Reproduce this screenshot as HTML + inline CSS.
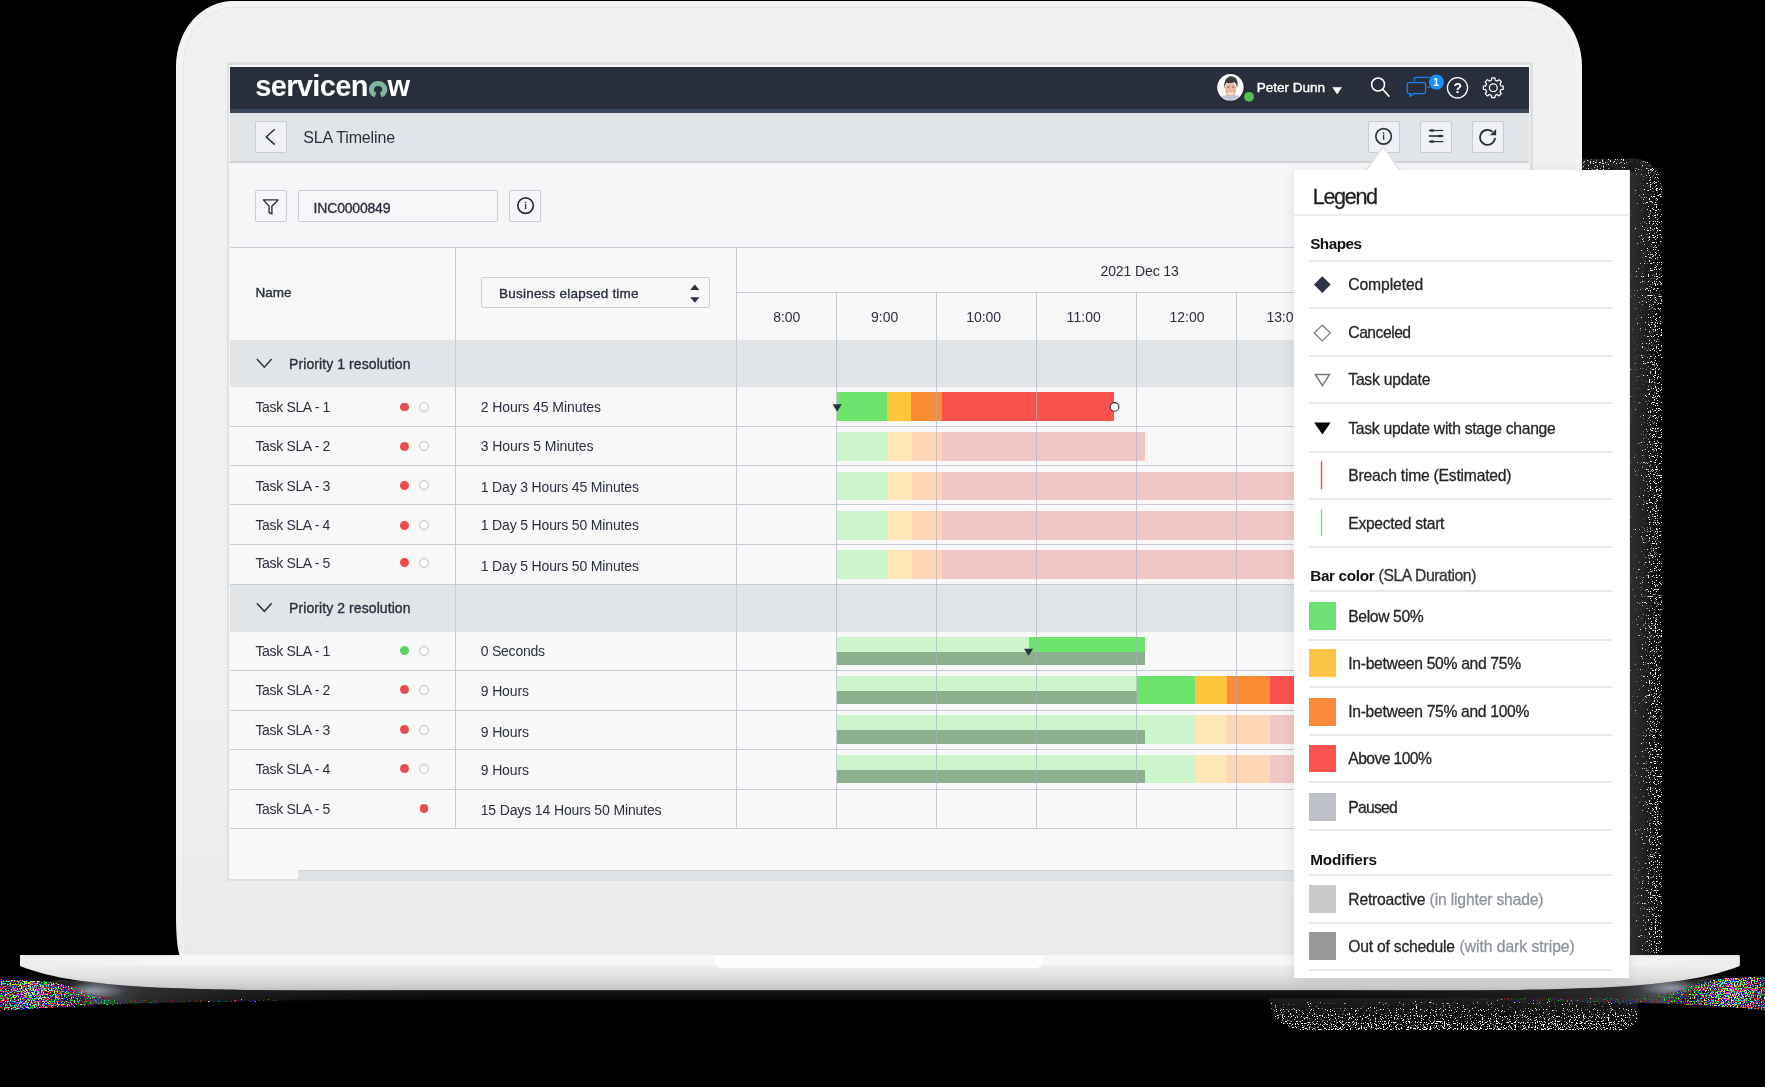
<!DOCTYPE html>
<html><head><meta charset="utf-8"><title>SLA Timeline</title>
<style>
html,body{margin:0;padding:0;background:#000;}
body{width:1765px;height:1087px;position:relative;overflow:hidden;font-family:"Liberation Sans",sans-serif;}
.a{position:absolute;box-sizing:border-box;}
.t{position:absolute;white-space:nowrap;line-height:1;height:1em;display:block;}
.m{-webkit-text-stroke:0.35px currentColor;}
.m2{-webkit-text-stroke:0.28px currentColor;}
svg{position:absolute;overflow:visible;left:0;top:0;}
.btn{position:absolute;box-sizing:border-box;background:#f0f1f6;border:1px solid #c9cdd3;border-radius:2px;}
.btn2{position:absolute;box-sizing:border-box;background:#f7f7f9;border:1px solid #c9cdd3;border-radius:2px;}
#w{position:absolute;left:0;top:0;width:1765px;height:1087px;will-change:transform;}
</style></head><body><div id="w">
<svg id="noise" width="1765" height="1087" viewBox="0 0 1765 1087"><defs><filter id="fw" x="0" y="0" width="1" height="1" color-interpolation-filters="sRGB"><feTurbulence type="fractalNoise" baseFrequency="0.85" numOctaves="1" seed="11" result="n"/><feColorMatrix in="n" type="matrix" values="1 0 0 0 0  1 0 0 0 0  1 0 0 0 0  0 0 0 0 1" result="g"/><feComposite in="g" in2="SourceGraphic" operator="arithmetic" k1="0" k2="12" k3="12" k4="-12" result="c"/><feColorMatrix in="c" type="matrix" values="0 0 0 0 1  0 0 0 0 1  0 0 0 0 1  1 0 0 0 0"/></filter><filter id="fc" x="0" y="0" width="1" height="1" color-interpolation-filters="sRGB"><feTurbulence type="fractalNoise" baseFrequency="0.7" numOctaves="1" seed="5" result="n"/><feColorMatrix in="n" type="matrix" values="1 0 0 0 0  0 1 0 0 0  0 0 1 0 0  0 0 0 0 1" result="g"/><feComposite in="g" in2="SourceGraphic" operator="arithmetic" k1="0" k2="9" k3="9" k4="-9" result="c"/><feColorMatrix in="c" type="matrix" values="1 0 0 0 0  0 1 0 0 0  0 0 1 0 0  1 1 1 0 0"/></filter><linearGradient id="gr" gradientUnits="userSpaceOnUse" x1="1631" y1="0" x2="1662.5" y2="0"><stop offset="0" stop-color="#484848"/><stop offset="0.4" stop-color="#565656"/><stop offset="0.7" stop-color="#6c6c6c"/><stop offset="1" stop-color="#686868"/></linearGradient><linearGradient id="grb" gradientUnits="userSpaceOnUse" x1="1631" y1="0" x2="1662.5" y2="0"><stop offset="0" stop-color="#303030"/><stop offset="0.45" stop-color="#1f1f1f"/><stop offset="0.8" stop-color="#0a0a0a"/><stop offset="1" stop-color="#000"/></linearGradient><linearGradient id="gt" x1="0" y1="0" x2="0" y2="1"><stop offset="0" stop-color="#6e6e6e"/><stop offset="1" stop-color="#585858"/></linearGradient><linearGradient id="gb" x1="0" y1="0" x2="0" y2="1"><stop offset="0" stop-color="#505050"/><stop offset="0.5" stop-color="#666"/><stop offset="1" stop-color="#7b7b7b"/></linearGradient><linearGradient id="gbb" x1="0" y1="0" x2="0" y2="1"><stop offset="0" stop-color="#1e1e1e"/><stop offset="0.6" stop-color="#0c0c0c"/><stop offset="1" stop-color="#000"/></linearGradient><radialGradient id="gl" gradientUnits="userSpaceOnUse" cx="32" cy="992" r="95"><stop offset="0" stop-color="#8e8e8e"/><stop offset="0.4" stop-color="#7c7c7c"/><stop offset="0.7" stop-color="#686868"/><stop offset="1" stop-color="#646464"/></radialGradient><radialGradient id="gl2" gradientUnits="userSpaceOnUse" cx="1733" cy="990" r="95"><stop offset="0" stop-color="#8e8e8e"/><stop offset="0.4" stop-color="#7c7c7c"/><stop offset="0.7" stop-color="#686868"/><stop offset="1" stop-color="#646464"/></radialGradient><linearGradient id="sh" x1="0" y1="0" x2="0" y2="1"><stop offset="0" stop-color="#2e2e2e"/><stop offset="1" stop-color="#000"/></linearGradient><radialGradient id="glow"><stop offset="0" stop-color="#9aa2ad" stop-opacity="0.9"/><stop offset="1" stop-color="#9aa2ad" stop-opacity="0"/></radialGradient></defs><path d="M60 980 Q250 992 500 991 H1300 Q1560 991 1710 978 L1765 990 V1003 Q1560 1000 1400 1000 H420 Q250 1001 0 1004 V985 Z" fill="url(#sh)"/><clipPath id="colc"><path d="M1582 158.5 H1636 Q1662.5 161 1662.5 197 V955 H1628 V172 H1582 Z"/></clipPath><g clip-path="url(#colc)"><path d="M1628 150 H1662.5 V955 H1628 Z" fill="url(#grb)"/><path d="M1582 158.5 H1640 V172 H1582 Z" fill="#1c1c1c"/><g filter="url(#fw)"><path d="M1628 150 H1662.5 V955 H1628 Z" fill="url(#gr)"/></g><g filter="url(#fw)"><path d="M1582 158.5 H1628 V172 H1582 Z" fill="url(#gt)"/></g></g><path d="M1269 998 H1638 V1016 Q1636 1030.5 1615 1030.5 H1310 Q1274 1030 1269 1000 Z" fill="url(#gbb)"/><g filter="url(#fw)"><path d="M1269 1003 Q1400 999 1638 1000 V1016 Q1636 1030.5 1615 1030.5 H1310 Q1274 1030 1269 1003 Z" fill="url(#gb)"/></g><linearGradient id="wl" gradientUnits="userSpaceOnUse" x1="70" y1="0" x2="430" y2="0"><stop offset="0" stop-color="#5a5e66" stop-opacity="0"/><stop offset="0.07" stop-color="#5a5e66" stop-opacity="0.85"/><stop offset="0.2" stop-color="#3a3a3c" stop-opacity="0.7"/><stop offset="0.5" stop-color="#262626" stop-opacity="0.5"/><stop offset="1" stop-color="#1c1c1c" stop-opacity="0"/></linearGradient><linearGradient id="wr" gradientUnits="userSpaceOnUse" x1="1690" y1="0" x2="1330" y2="0"><stop offset="0" stop-color="#5a5e66" stop-opacity="0"/><stop offset="0.07" stop-color="#5a5e66" stop-opacity="0.85"/><stop offset="0.2" stop-color="#3a3a3c" stop-opacity="0.7"/><stop offset="0.5" stop-color="#262626" stop-opacity="0.5"/><stop offset="1" stop-color="#1c1c1c" stop-opacity="0"/></linearGradient><path d="M70 978 L430 985 V998 L280 1000 L70 1005 Z" fill="url(#wl)"/><path d="M1690 976 L1330 985 V998 L1480 1000 L1690 1004 Z" fill="url(#wr)"/><ellipse cx="92" cy="991" rx="34" ry="8" fill="url(#glow)"/><ellipse cx="1673" cy="988" rx="34" ry="8" fill="url(#glow)"/><g filter="url(#fc)"><path d="M0 979 L45 981 Q70 984 86 993 L125 1000 L285 998.5 L285 1001.5 L125 1004.5 Q70 1007 0 1011 Z" fill="url(#gl)"/></g><g filter="url(#fc)"><path d="M1765 976 L1725 978 Q1698 981 1682 990 L1642 998 L1480 997.5 L1480 1000.5 L1642 1003 Q1700 1005 1765 1010 Z" fill="url(#gl2)"/></g></svg>
<div class="a" id="lid" style="left:176.10px;top:1.00px;width:1405.70px;height:956.00px;border-radius:57px 57px 5px 5px / 65px 65px 40px 40px;background:linear-gradient(#f3f3f3 0,#f3f3f3 70%,#f0f0f0 92%,#ededed 100%);"></div>
<div class="a" id="lidin" style="left:183.30px;top:7.30px;width:1391.60px;height:950.00px;border-radius:50px 50px 4px 4px / 58px 58px 40px 40px;border:1.6px solid #e7e7e7;border-bottom:none;background:linear-gradient(#f0f0f0 0,#f0f0f0 70%,#ededed 88%,#eaeaea 100%);"></div>
<svg id="base" width="1765" height="1087" viewBox="0 0 1765 1087"><defs><linearGradient id="bg1" x1="0" y1="0" x2="0" y2="1"><stop offset="0" stop-color="#f1f1f1"/><stop offset="0.3" stop-color="#eeeeee"/><stop offset="0.6" stop-color="#e2e2e2"/><stop offset="0.9" stop-color="#cdcdcd"/><stop offset="1" stop-color="#c0c0c0"/></linearGradient><linearGradient id="bg2" x1="0" y1="0" x2="1" y2="0"><stop offset="0" stop-color="#ededed"/><stop offset="0.1" stop-color="#f7f7f7"/><stop offset="0.9" stop-color="#f7f7f7"/><stop offset="1" stop-color="#ececec"/></linearGradient></defs><path d="M20 955.3 V966 C35 972 55 977 75 980 C95 982.6 110 984.3 125 985.6 C150 987.5 175 988.4 200 988.9 C220 989.4 235 989.7 250 989.9 L300 990.3 L1459.6 990.3 L1509.6 989.9 C1524.6 989.7 1539.6 989.4 1559.6 988.9 C1584.6 988.4 1609.6 987.5 1634.6 985.6 C1649.6 984.3 1664.6 982.6 1684.6 980 C1704.6 977 1724.6 972 1739.6 966 V955.3 Z" fill="url(#bg1)"/><rect x="20" y="955.3" width="1719.6" height="9.9" fill="url(#bg2)"/><path d="M715 955.3 H1043 V962 Q1043 968.3 1030 968.3 H728 Q715 968.3 715 962 Z" fill="#fdfdfd"/></svg>
<div class="a" id="bezel" style="left:226.50px;top:62.20px;width:1306.50px;height:818.40px;background:#e0e0e0;"></div>
<div class="a" id="screen" style="left:229.20px;top:65.20px;width:1300.80px;height:813.60px;background:linear-gradient(#f6f6f8 0,#f6f6f8 182px,#f8f8f8 182px,#f8f8f8 100%);"></div>
<div class="a" id="nav" style="left:230.00px;top:67.00px;width:1298.70px;height:42.50px;background:#292e3d;"></div>
<div class="a" style="left:230.00px;top:109.30px;width:1298.70px;height:3.40px;background:#3a485c;"></div>
<div class="a" id="sub" style="left:230.00px;top:112.70px;width:1298.70px;height:48.20px;background:#e2e5e8;"></div>
<div class="a" style="left:230.00px;top:160.80px;width:1298.70px;height:1.80px;background:#cdd2d9;"></div>
<span id="t1" class="t" style="left:255.30px;top:72.35px;font-size:29.00px;font-weight:700;color:#fff;letter-spacing:-0.664px">servicen</span>
<span id="t2" class="t" style="left:387.60px;top:72.35px;font-size:29.00px;font-weight:700;color:#fff;letter-spacing:1.130px">w</span>
<svg width="1765" height="1087"><path d="M375.45 95.0 A6.7 6.0 0 1 1 380.75 95.0" fill="none" stroke="#81b5a0" stroke-width="4.9"/></svg>
<span id="t3" class="t m" style="left:1256.70px;top:81.29px;font-size:13.60px;font-weight:400;color:#fff;letter-spacing:-0.048px">Peter Dunn</span>
<div class="btn" style="left:255.40px;top:121.20px;width:31.40px;height:31.50px;"></div>
<span id="t4" class="t" style="left:303.20px;top:129.76px;font-size:16.00px;font-weight:400;color:#2b3040;letter-spacing:-0.133px">SLA Timeline</span>
<div class="btn" style="left:1368.30px;top:121.20px;width:31.40px;height:31.50px;"></div>
<div class="btn" style="left:1420.30px;top:121.20px;width:31.40px;height:31.50px;"></div>
<div class="btn" style="left:1472.20px;top:121.20px;width:31.40px;height:31.50px;"></div>
<div class="btn2" style="left:255.20px;top:190.40px;width:31.40px;height:31.30px;"></div>
<div class="btn2" style="left:298.20px;top:190.40px;width:199.40px;height:31.30px;"></div>
<div class="btn2" style="left:509.30px;top:190.40px;width:31.30px;height:31.30px;"></div>
<span id="t5" class="t m" style="left:313.60px;top:200.75px;font-size:14.00px;font-weight:400;color:#2b3040;letter-spacing:-0.192px">INC0000849</span>
<svg width="1765" height="1087"><defs><clipPath id="avc"><circle cx="1230.4" cy="87.3" r="12.6"/></clipPath></defs><circle cx="1230.4" cy="87.3" r="13.2" fill="#fbfbfb"/><g clip-path="url(#avc)"><path d="M1219 101 Q1220 95.5 1226 95 L1235 95 Q1241 95.5 1242 101 Z" fill="#b9c6dc"/><path d="M1227.6 94 L1230.6 98.6 L1233.8 94 Z" fill="#e9c0a6"/><ellipse cx="1230.6" cy="89.3" rx="5.6" ry="7.3" fill="#e7b89d"/><path d="M1224.4 88.5 Q1223 78.5 1230 76.2 Q1237.5 75.6 1237.6 84 L1237 88.5 Q1236.6 83.6 1234.4 82.2 Q1230 83.5 1226.4 82.8 Q1225 84.5 1224.4 88.5 Z" fill="#3d3d3f"/><path d="M1228 93.0 Q1230.6 94.8 1233.2 93.0" stroke="#fff" stroke-width="1.1" fill="none"/><rect x="1227.3" y="86.6" width="1.9" height="0.9" fill="#5b4034"/><rect x="1232.3" y="86.6" width="1.9" height="0.9" fill="#5b4034"/></g><circle cx="1249" cy="96.8" r="4.9" fill="#55bf52"/><path d="M1332.8 87.4 L1341.5 87.4 L1337.15 93.9 Z" fill="#fff" stroke="#fff" stroke-width="0.6" stroke-linejoin="round"/><circle cx="1378.1" cy="84.5" r="6.45" fill="none" stroke="#fff" stroke-width="1.6"/><path d="M1382.9 89.5 L1388.9 96.1" stroke="#fff" stroke-width="1.6" stroke-linecap="round"/><g fill="none" stroke="#1c84ee" stroke-width="1.25" stroke-linejoin="round"><path d="M1414.4 81.6 V79 Q1414.4 77.3 1416.1 77.3 H1430.2" /><path d="M1427.2 87.2 H1430"/><path d="M1409 82.6 H1423.8 Q1425.6 82.6 1425.6 84.4 V91.8 Q1425.6 93.6 1423.8 93.6 H1414.2 L1410 96.6 L1410.6 93.6 H1409 Q1407.3 93.6 1407.3 91.8 V84.4 Q1407.3 82.6 1409 82.6 Z"/></g><circle cx="1436.4" cy="82.1" r="7.5" fill="#1890ff"/><circle cx="1457.5" cy="87.8" r="10.1" fill="none" stroke="#fff" stroke-width="1.25"/><path d="M1491.36 80.25 L1491.74 77.92 L1494.86 77.92 L1495.24 80.25 L1497.27 81.09 L1499.18 79.71 L1501.39 81.92 L1500.01 83.83 L1500.85 85.86 L1503.18 86.24 L1503.18 89.36 L1500.85 89.74 L1500.01 91.77 L1501.39 93.68 L1499.18 95.89 L1497.27 94.51 L1495.24 95.35 L1494.86 97.68 L1491.74 97.68 L1491.36 95.35 L1489.33 94.51 L1487.42 95.89 L1485.21 93.68 L1486.59 91.77 L1485.75 89.74 L1483.42 89.36 L1483.42 86.24 L1485.75 85.86 L1486.59 83.83 L1485.21 81.92 L1487.42 79.71 L1489.33 81.09 Z" fill="none" stroke="#fff" stroke-width="1.25" stroke-linejoin="round"/><circle cx="1493.3" cy="87.8" r="3.9" fill="none" stroke="#fff" stroke-width="1.25"/><path d="M274.8 129.2 L266.2 136.9 L274.8 144.6" fill="none" stroke="#2b3040" stroke-width="1.5"/></svg>
<span class="t" style="left:1433.3px;top:77.01px;font-size:10.5px;font-weight:700;color:#fff">1</span>
<span class="t" style="left:1453.4px;top:81.15px;font-size:14px;font-weight:700;color:#fff">?</span>
<svg width="1765" height="1087"><circle cx="1383.60" cy="136.30" r="7.75" fill="none" stroke="#2b3040" stroke-width="1.7"/><rect x="1382.95" y="134.70" width="1.3" height="5.0" fill="#2b3040"/><rect x="1382.90" y="132.40" width="1.4" height="1.4" fill="#2b3040"/><circle cx="525.55" cy="205.60" r="7.75" fill="none" stroke="#2b3040" stroke-width="1.7"/><rect x="524.90" y="204.00" width="1.3" height="5.0" fill="#2b3040"/><rect x="524.85" y="201.70" width="1.4" height="1.4" fill="#2b3040"/><path d="M1428.8 130.5 H1443.3" stroke="#2b3040" stroke-width="1.2"/><ellipse cx="1432.0" cy="130.5" rx="2.4" ry="1.35" fill="#2b3040"/><path d="M1428.8 136.0 H1443.3" stroke="#2b3040" stroke-width="1.6"/><ellipse cx="1440.3" cy="136.0" rx="2.4" ry="1.35" fill="#2b3040"/><path d="M1428.8 141.6 H1443.3" stroke="#2b3040" stroke-width="1.2"/><ellipse cx="1432.0" cy="141.6" rx="2.4" ry="1.35" fill="#2b3040"/><path d="M1492.52 131.83 A7.50 7.50 0 1 0 1494.98 137.92" fill="none" stroke="#2b3040" stroke-width="1.8"/><path d="M1496.1 128.9 V135.2 H1490.0 Z" fill="#2b3040"/><path d="M263.4 199.9 H278 L271.9 206.2 V213.9 L269.1 212.5 V206.2 Z" fill="none" stroke="#2b3040" stroke-width="1.4" stroke-linejoin="round"/></svg>
<div class="a" style="left:229.50px;top:340.30px;width:1300.00px;height:46.40px;background:#e2e5e8;"></div>
<div class="a" style="left:229.50px;top:584.40px;width:1300.00px;height:47.30px;background:#e2e5e8;"></div>
<div class="a" style="left:229.50px;top:247.00px;width:1300.00px;height:1.40px;background:#c6cbd6;"></div>
<div class="a" style="left:736.60px;top:292.00px;width:792.90px;height:1.40px;background:#c6cbd6;"></div>
<div class="a" style="left:229.50px;top:426.00px;width:1300.00px;height:1.40px;background:#c6cbd6;"></div>
<div class="a" style="left:229.50px;top:465.00px;width:1300.00px;height:1.40px;background:#c6cbd6;"></div>
<div class="a" style="left:229.50px;top:504.00px;width:1300.00px;height:1.40px;background:#c6cbd6;"></div>
<div class="a" style="left:229.50px;top:544.00px;width:1300.00px;height:1.40px;background:#c6cbd6;"></div>
<div class="a" style="left:229.50px;top:584.00px;width:1300.00px;height:1.40px;background:#c6cbd6;"></div>
<div class="a" style="left:229.50px;top:670.00px;width:1300.00px;height:1.40px;background:#c6cbd6;"></div>
<div class="a" style="left:229.50px;top:710.00px;width:1300.00px;height:1.40px;background:#c6cbd6;"></div>
<div class="a" style="left:229.50px;top:749.00px;width:1300.00px;height:1.40px;background:#c6cbd6;"></div>
<div class="a" style="left:229.50px;top:789.00px;width:1300.00px;height:1.40px;background:#c6cbd6;"></div>
<div class="a" style="left:229.50px;top:828.00px;width:1300.00px;height:1.40px;background:#c6cbd6;"></div>
<div class="a" style="left:455.00px;top:247.40px;width:1.40px;height:581.40px;background:#c6cbd6;"></div>
<div class="a" style="left:736.00px;top:247.40px;width:1.40px;height:581.40px;background:#c6cbd6;"></div>
<span id="t6" class="t m" style="left:255.40px;top:286.07px;font-size:13.50px;font-weight:400;color:#2b3040;letter-spacing:0.021px">Name</span>
<div class="btn2" style="left:480.50px;top:277.40px;width:229.70px;height:31.10px;background:#f8f8f9;"></div>
<span id="t7" class="t m" style="left:499.00px;top:286.87px;font-size:13.50px;font-weight:400;color:#2b3040;letter-spacing:0.224px">Business elapsed time</span>
<svg width="1765" height="1087"><path d="M690.2 290 L694.8 284.6 L699.4 290 Z M690.2 297.2 L699.4 297.2 L694.8 302.8 Z" fill="#2b3040"/></svg>
<span id="t8" class="t" style="left:1100.50px;top:263.85px;font-size:14.00px;font-weight:400;color:#2b3040;letter-spacing:-0.109px">2021 Dec 13</span>
<span id="t9" class="t" style="left:773.20px;top:309.75px;font-size:14.00px;font-weight:400;color:#2b3040;letter-spacing:-0.016px">8:00</span>
<span id="t10" class="t" style="left:871.10px;top:309.75px;font-size:14.00px;font-weight:400;color:#2b3040;letter-spacing:-0.014px">9:00</span>
<span id="t11" class="t" style="left:966.30px;top:309.75px;font-size:14.00px;font-weight:400;color:#2b3040;letter-spacing:-0.049px">10:00</span>
<span id="t12" class="t" style="left:1066.60px;top:309.75px;font-size:14.00px;font-weight:400;color:#2b3040;letter-spacing:0.040px">11:00</span>
<span id="t13" class="t" style="left:1169.60px;top:309.75px;font-size:14.00px;font-weight:400;color:#2b3040;letter-spacing:-0.048px">12:00</span>
<span id="t14" class="t" style="left:1266.40px;top:309.75px;font-size:14.00px;font-weight:400;color:#2b3040;letter-spacing:-0.048px">13:00</span>
<svg width="1765" height="1087"><path d="M256.9 359.1 L264.3 367.2 L271.7 359.1" fill="none" stroke="#2b3040" stroke-width="1.5"/></svg>
<span id="t15" class="t m" style="left:289.10px;top:357.05px;font-size:14.00px;font-weight:400;color:#2b3040;letter-spacing:0.079px">Priority 1 resolution</span>
<svg width="1765" height="1087"><path d="M256.9 603.2 L264.3 611.3 L271.7 603.2" fill="none" stroke="#2b3040" stroke-width="1.5"/></svg>
<span id="t16" class="t m" style="left:289.10px;top:601.15px;font-size:14.00px;font-weight:400;color:#2b3040;letter-spacing:0.079px">Priority 2 resolution</span>
<span id="t17" class="t" style="left:255.40px;top:400.25px;font-size:14.00px;font-weight:400;color:#2b3040;letter-spacing:-0.333px">Task SLA - 1</span>
<span id="t18" class="t" style="left:480.70px;top:399.75px;font-size:14.00px;font-weight:400;color:#2b3040;letter-spacing:-0.066px">2 Hours 45 Minutes</span>
<div class="a" style="left:399.75px;top:402.55px;width:8.90px;height:8.90px;border-radius:50%;background:#ea4c4b;box-shadow:0 0 0 0.8px #fbfdfd;"></div>
<div class="a" style="left:419.05px;top:402.00px;width:10.00px;height:10.00px;border-radius:50%;border:1.2px solid #bbc0cc;background:#f9f9fa;"></div>
<span id="t19" class="t" style="left:255.40px;top:439.35px;font-size:14.00px;font-weight:400;color:#2b3040;letter-spacing:-0.333px">Task SLA - 2</span>
<span id="t20" class="t" style="left:480.70px;top:439.35px;font-size:14.00px;font-weight:400;color:#2b3040;letter-spacing:-0.048px">3 Hours 5 Minutes</span>
<div class="a" style="left:399.75px;top:441.65px;width:8.90px;height:8.90px;border-radius:50%;background:#ea4c4b;box-shadow:0 0 0 0.8px #fbfdfd;"></div>
<div class="a" style="left:419.05px;top:441.10px;width:10.00px;height:10.00px;border-radius:50%;border:1.2px solid #bbc0cc;background:#f9f9fa;"></div>
<span id="t21" class="t" style="left:255.40px;top:478.55px;font-size:14.00px;font-weight:400;color:#2b3040;letter-spacing:-0.333px">Task SLA - 3</span>
<span id="t22" class="t" style="left:480.70px;top:480.25px;font-size:14.00px;font-weight:400;color:#2b3040;letter-spacing:-0.157px">1 Day 3 Hours 45 Minutes</span>
<div class="a" style="left:399.75px;top:480.85px;width:8.90px;height:8.90px;border-radius:50%;background:#ea4c4b;box-shadow:0 0 0 0.8px #fbfdfd;"></div>
<div class="a" style="left:419.05px;top:480.30px;width:10.00px;height:10.00px;border-radius:50%;border:1.2px solid #bbc0cc;background:#f9f9fa;"></div>
<span id="t23" class="t" style="left:255.40px;top:518.35px;font-size:14.00px;font-weight:400;color:#2b3040;letter-spacing:-0.333px">Task SLA - 4</span>
<span id="t24" class="t" style="left:480.70px;top:518.35px;font-size:14.00px;font-weight:400;color:#2b3040;letter-spacing:-0.157px">1 Day 5 Hours 50 Minutes</span>
<div class="a" style="left:399.75px;top:520.65px;width:8.90px;height:8.90px;border-radius:50%;background:#ea4c4b;box-shadow:0 0 0 0.8px #fbfdfd;"></div>
<div class="a" style="left:419.05px;top:520.10px;width:10.00px;height:10.00px;border-radius:50%;border:1.2px solid #bbc0cc;background:#f9f9fa;"></div>
<span id="t25" class="t" style="left:255.40px;top:555.75px;font-size:14.00px;font-weight:400;color:#2b3040;letter-spacing:-0.333px">Task SLA - 5</span>
<span id="t26" class="t" style="left:480.70px;top:558.55px;font-size:14.00px;font-weight:400;color:#2b3040;letter-spacing:-0.157px">1 Day 5 Hours 50 Minutes</span>
<div class="a" style="left:399.75px;top:558.05px;width:8.90px;height:8.90px;border-radius:50%;background:#ea4c4b;box-shadow:0 0 0 0.8px #fbfdfd;"></div>
<div class="a" style="left:419.05px;top:557.50px;width:10.00px;height:10.00px;border-radius:50%;border:1.2px solid #bbc0cc;background:#f9f9fa;"></div>
<span id="t27" class="t" style="left:255.40px;top:644.35px;font-size:14.00px;font-weight:400;color:#2b3040;letter-spacing:-0.333px">Task SLA - 1</span>
<span id="t28" class="t" style="left:480.70px;top:644.35px;font-size:14.00px;font-weight:400;color:#2b3040;letter-spacing:-0.218px">0 Seconds</span>
<div class="a" style="left:399.75px;top:646.25px;width:8.90px;height:8.90px;border-radius:50%;background:#5cd65f;box-shadow:0 0 0 0.8px #fbfdfd;"></div>
<div class="a" style="left:419.05px;top:645.70px;width:10.00px;height:10.00px;border-radius:50%;border:1.2px solid #bbc0cc;background:#f9f9fa;"></div>
<span id="t29" class="t" style="left:255.40px;top:683.45px;font-size:14.00px;font-weight:400;color:#2b3040;letter-spacing:-0.333px">Task SLA - 2</span>
<span id="t30" class="t" style="left:480.70px;top:684.45px;font-size:14.00px;font-weight:400;color:#2b3040;letter-spacing:-0.119px">9 Hours</span>
<div class="a" style="left:399.75px;top:685.35px;width:8.90px;height:8.90px;border-radius:50%;background:#ea4c4b;box-shadow:0 0 0 0.8px #fbfdfd;"></div>
<div class="a" style="left:419.05px;top:684.80px;width:10.00px;height:10.00px;border-radius:50%;border:1.2px solid #bbc0cc;background:#f9f9fa;"></div>
<span id="t31" class="t" style="left:255.40px;top:723.15px;font-size:14.00px;font-weight:400;color:#2b3040;letter-spacing:-0.333px">Task SLA - 3</span>
<span id="t32" class="t" style="left:480.70px;top:724.85px;font-size:14.00px;font-weight:400;color:#2b3040;letter-spacing:-0.119px">9 Hours</span>
<div class="a" style="left:399.75px;top:725.15px;width:8.90px;height:8.90px;border-radius:50%;background:#ea4c4b;box-shadow:0 0 0 0.8px #fbfdfd;"></div>
<div class="a" style="left:419.05px;top:724.60px;width:10.00px;height:10.00px;border-radius:50%;border:1.2px solid #bbc0cc;background:#f9f9fa;"></div>
<span id="t33" class="t" style="left:255.40px;top:762.25px;font-size:14.00px;font-weight:400;color:#2b3040;letter-spacing:-0.333px">Task SLA - 4</span>
<span id="t34" class="t" style="left:480.70px;top:763.25px;font-size:14.00px;font-weight:400;color:#2b3040;letter-spacing:-0.118px">9 Hours</span>
<div class="a" style="left:399.75px;top:764.25px;width:8.90px;height:8.90px;border-radius:50%;background:#ea4c4b;box-shadow:0 0 0 0.8px #fbfdfd;"></div>
<div class="a" style="left:419.05px;top:763.70px;width:10.00px;height:10.00px;border-radius:50%;border:1.2px solid #bbc0cc;background:#f9f9fa;"></div>
<span id="t35" class="t" style="left:255.40px;top:802.35px;font-size:14.00px;font-weight:400;color:#2b3040;letter-spacing:-0.334px">Task SLA - 5</span>
<span id="t36" class="t" style="left:480.70px;top:803.15px;font-size:14.00px;font-weight:400;color:#2b3040;letter-spacing:-0.135px">15 Days 14 Hours 50 Minutes</span>
<div class="a" style="left:419.55px;top:804.35px;width:8.90px;height:8.90px;border-radius:50%;background:#ea4c4b;box-shadow:0 0 0 0.8px #fbfdfd;"></div>
<div class="a" style="left:837.10px;top:392.30px;width:50.00px;height:28.50px;background:#6be56c;"></div>
<div class="a" style="left:887.10px;top:392.30px;width:23.70px;height:28.50px;background:#fdc53b;"></div>
<div class="a" style="left:910.80px;top:392.30px;width:30.80px;height:28.50px;background:#fb8b34;"></div>
<div class="a" style="left:941.60px;top:392.30px;width:172.90px;height:28.50px;background:#fb514c;"></div>
<div class="a" style="left:837.10px;top:432.00px;width:50.00px;height:28.90px;background:#ccf5cc;"></div>
<div class="a" style="left:887.10px;top:432.00px;width:24.80px;height:28.90px;background:#fee7b7;"></div>
<div class="a" style="left:911.90px;top:432.00px;width:29.70px;height:28.90px;background:#fed5b5;"></div>
<div class="a" style="left:941.60px;top:432.00px;width:203.10px;height:28.90px;background:#f1c7c5;"></div>
<div class="a" style="left:837.10px;top:471.50px;width:50.00px;height:28.60px;background:#ccf5cc;"></div>
<div class="a" style="left:887.10px;top:471.50px;width:24.80px;height:28.60px;background:#fee7b7;"></div>
<div class="a" style="left:911.90px;top:471.50px;width:29.70px;height:28.60px;background:#fed5b5;"></div>
<div class="a" style="left:941.60px;top:471.50px;width:598.40px;height:28.60px;background:#f1c7c5;"></div>
<div class="a" style="left:837.10px;top:510.90px;width:50.00px;height:28.90px;background:#ccf5cc;"></div>
<div class="a" style="left:887.10px;top:510.90px;width:24.80px;height:28.90px;background:#fee7b7;"></div>
<div class="a" style="left:911.90px;top:510.90px;width:29.70px;height:28.90px;background:#fed5b5;"></div>
<div class="a" style="left:941.60px;top:510.90px;width:598.40px;height:28.90px;background:#f1c7c5;"></div>
<div class="a" style="left:837.10px;top:550.00px;width:50.00px;height:29.00px;background:#ccf5cc;"></div>
<div class="a" style="left:887.10px;top:550.00px;width:24.80px;height:29.00px;background:#fee7b7;"></div>
<div class="a" style="left:911.90px;top:550.00px;width:29.70px;height:29.00px;background:#fed5b5;"></div>
<div class="a" style="left:941.60px;top:550.00px;width:598.40px;height:29.00px;background:#f1c7c5;"></div>
<div class="a" style="left:837.10px;top:637.10px;width:192.00px;height:14.70px;background:#ccf5cc;"></div>
<div class="a" style="left:1029.10px;top:637.10px;width:115.60px;height:14.70px;background:#6be56c;"></div>
<div class="a" style="left:837.10px;top:651.80px;width:307.60px;height:13.60px;background:#8caf8d;"></div>
<div class="a" style="left:837.10px;top:676.20px;width:299.80px;height:14.70px;background:#ccf5cc;"></div>
<div class="a" style="left:837.10px;top:690.90px;width:299.80px;height:13.60px;background:#8caf8d;"></div>
<div class="a" style="left:1136.90px;top:676.20px;width:58.50px;height:28.30px;background:#6be56c;"></div>
<div class="a" style="left:1195.40px;top:676.20px;width:31.30px;height:28.30px;background:#fdc53b;"></div>
<div class="a" style="left:1226.70px;top:676.20px;width:43.10px;height:28.30px;background:#fb8b34;"></div>
<div class="a" style="left:1269.80px;top:676.20px;width:270.20px;height:28.30px;background:#fb514c;"></div>
<div class="a" style="left:837.10px;top:715.00px;width:358.30px;height:28.60px;background:#ccf5cc;"></div>
<div class="a" style="left:837.10px;top:729.60px;width:307.60px;height:14.00px;background:#8caf8d;"></div>
<div class="a" style="left:1195.40px;top:715.00px;width:31.30px;height:28.60px;background:#fee7b7;"></div>
<div class="a" style="left:1226.70px;top:715.00px;width:43.10px;height:28.60px;background:#fed5b5;"></div>
<div class="a" style="left:1269.80px;top:715.00px;width:270.20px;height:28.60px;background:#f1c7c5;"></div>
<div class="a" style="left:837.10px;top:755.10px;width:358.30px;height:28.30px;background:#ccf5cc;"></div>
<div class="a" style="left:837.10px;top:769.70px;width:307.60px;height:13.70px;background:#8caf8d;"></div>
<div class="a" style="left:1195.40px;top:755.10px;width:31.30px;height:28.30px;background:#fee7b7;"></div>
<div class="a" style="left:1226.70px;top:755.10px;width:43.10px;height:28.30px;background:#fed5b5;"></div>
<div class="a" style="left:1269.80px;top:755.10px;width:270.20px;height:28.30px;background:#f1c7c5;"></div>
<div class="a" style="left:836.00px;top:292.80px;width:1.40px;height:536.00px;background:rgba(168,176,196,0.62);"></div>
<div class="a" style="left:936.00px;top:292.80px;width:1.40px;height:536.00px;background:rgba(168,176,196,0.62);"></div>
<div class="a" style="left:1036.00px;top:292.80px;width:1.40px;height:536.00px;background:rgba(168,176,196,0.62);"></div>
<div class="a" style="left:1136.00px;top:292.80px;width:1.40px;height:536.00px;background:rgba(168,176,196,0.62);"></div>
<div class="a" style="left:1236.00px;top:292.80px;width:1.40px;height:536.00px;background:rgba(168,176,196,0.62);"></div>
<div class="a" style="left:1335.00px;top:292.80px;width:1.40px;height:536.00px;background:rgba(168,176,196,0.62);"></div>
<div class="a" style="left:1435.00px;top:292.80px;width:1.40px;height:536.00px;background:rgba(168,176,196,0.62);"></div>
<svg width="1765" height="1087"><path d="M832.6 404.3 L841.7 404.3 L837.15 411.7 Z" fill="#2b3040"/><path d="M1024 648.8 L1033.2 648.8 L1028.6 655.8 Z" fill="#2b3040"/><circle cx="1114.6" cy="406.9" r="4.3" fill="#fff" stroke="#2b3040" stroke-width="1.1"/></svg>
<div class="a" style="left:297.50px;top:869.50px;width:1232.50px;height:9.30px;background:#e0e3e6;border-top:1px solid #d3d6da;"></div>
<svg width="1765" height="1087"><path d="M1364.6 171 L1383.1 145.6 L1401.4 171 Z" fill="#e3e3e3"/></svg>
<div class="a" id="legend" style="left:1293.60px;top:170.00px;width:336.90px;height:807.60px;background:#fff;box-shadow:-1px 3px 12px rgba(0,0,0,0.09);border-right:1px solid #e4e4e4;"></div>
<svg width="1765" height="1087"><path d="M1366.6 171 L1383.1 148.2 L1399.5 171 Z" fill="#fff"/></svg>
<span id="t37" class="t m2" style="left:1312.80px;top:186.42px;font-size:21.60px;font-weight:400;color:#1f1f1f;letter-spacing:-1.360px">Legend</span>
<div class="a" style="left:1293.60px;top:214.00px;width:335.90px;height:2.00px;background:#ececec;"></div>
<span id="t38" class="t" style="left:1310.20px;top:236.35px;font-size:15.30px;font-weight:700;color:#111;letter-spacing:-0.538px">Shapes</span>
<div class="a" style="left:1309.20px;top:260.00px;width:303.20px;height:1.80px;background:#e9e9e9;"></div>
<span id="t39" class="t m2" style="left:1348.30px;top:276.61px;font-size:15.70px;font-weight:400;color:#262626;letter-spacing:-0.119px">Completed</span>
<div class="a" style="left:1309.20px;top:307.00px;width:303.20px;height:1.80px;background:#e9e9e9;"></div>
<span id="t40" class="t m2" style="left:1348.30px;top:325.21px;font-size:15.70px;font-weight:400;color:#262626;letter-spacing:-0.499px">Canceled</span>
<div class="a" style="left:1309.20px;top:355.00px;width:303.20px;height:1.80px;background:#e9e9e9;"></div>
<span id="t41" class="t m2" style="left:1348.30px;top:371.81px;font-size:15.70px;font-weight:400;color:#262626;letter-spacing:-0.246px">Task update</span>
<div class="a" style="left:1309.20px;top:402.00px;width:303.20px;height:1.80px;background:#e9e9e9;"></div>
<span id="t42" class="t m2" style="left:1348.30px;top:420.61px;font-size:15.70px;font-weight:400;color:#262626;letter-spacing:-0.284px">Task update with stage change</span>
<div class="a" style="left:1309.20px;top:451.00px;width:303.20px;height:1.80px;background:#e9e9e9;"></div>
<span id="t43" class="t m2" style="left:1348.30px;top:467.61px;font-size:15.70px;font-weight:400;color:#262626;letter-spacing:-0.229px">Breach time (Estimated)</span>
<div class="a" style="left:1309.20px;top:498.00px;width:303.20px;height:1.80px;background:#e9e9e9;"></div>
<span id="t44" class="t m2" style="left:1348.30px;top:516.21px;font-size:15.70px;font-weight:400;color:#262626;letter-spacing:-0.321px">Expected start</span>
<div class="a" style="left:1309.20px;top:546.00px;width:303.20px;height:1.80px;background:#e9e9e9;"></div>
<svg width="1765" height="1087"><path d="M1322.3 276.3 L1330.7 284.6 L1322.3 292.9 L1313.9 284.6 Z" fill="#2d3448"/><path d="M1322.3 325.0 L1330.3 333.0 L1322.3 341.0 L1314.3 333.0 Z" fill="#fff" stroke="#7a7a7a" stroke-width="1.2"/><path d="M1315.3 374.4 L1329.5 374.4 L1322.4 385.6 Z" fill="#fff" stroke="#777a80" stroke-width="1.5"/><path d="M1314.2 422.4 L1330.6 422.4 L1322.4 434.4 Z" fill="#000"/><rect x="1320.8" y="461.1" width="1.4" height="28.3" fill="#f0504b"/><rect x="1320.8" y="509.7" width="1.4" height="26.7" fill="#6be56c"/></svg>
<span id="t45" class="t" style="left:1310.20px;top:568.45px;font-size:15.30px;font-weight:700;color:#111;letter-spacing:-0.340px">Bar color</span>
<span id="t46" class="t m2" style="left:1378.60px;top:568.11px;font-size:15.70px;font-weight:400;color:#333;letter-spacing:-0.392px">(SLA Duration)</span>
<div class="a" style="left:1309.20px;top:590.00px;width:303.20px;height:1.80px;background:#e9e9e9;"></div>
<div class="a" style="left:1309.10px;top:602.00px;width:26.80px;height:28.00px;background:#6fe177;"></div>
<span id="t47" class="t m2" style="left:1348.30px;top:609.11px;font-size:15.70px;font-weight:400;color:#262626;letter-spacing:-0.388px">Below 50%</span>
<div class="a" style="left:1309.20px;top:639.00px;width:303.20px;height:1.80px;background:#e9e9e9;"></div>
<div class="a" style="left:1309.10px;top:648.80px;width:26.80px;height:28.20px;background:#fcc545;"></div>
<span id="t48" class="t m2" style="left:1348.30px;top:655.71px;font-size:15.70px;font-weight:400;color:#262626;letter-spacing:-0.326px">In-between 50% and 75%</span>
<div class="a" style="left:1309.20px;top:686.00px;width:303.20px;height:1.80px;background:#e9e9e9;"></div>
<div class="a" style="left:1309.10px;top:697.80px;width:26.80px;height:27.80px;background:#fb8a3c;"></div>
<span id="t49" class="t m2" style="left:1348.30px;top:704.31px;font-size:15.70px;font-weight:400;color:#262626;letter-spacing:-0.331px">In-between 75% and 100%</span>
<div class="a" style="left:1309.20px;top:734.00px;width:303.20px;height:1.80px;background:#e9e9e9;"></div>
<div class="a" style="left:1309.10px;top:744.60px;width:26.80px;height:27.80px;background:#fa5352;"></div>
<span id="t50" class="t m2" style="left:1348.30px;top:751.11px;font-size:15.70px;font-weight:400;color:#262626;letter-spacing:-0.597px">Above 100%</span>
<div class="a" style="left:1309.20px;top:781.00px;width:303.20px;height:1.80px;background:#e9e9e9;"></div>
<div class="a" style="left:1309.10px;top:793.20px;width:26.80px;height:28.00px;background:#bdc0c6;"></div>
<span id="t51" class="t m2" style="left:1348.30px;top:799.91px;font-size:15.70px;font-weight:400;color:#262626;letter-spacing:-0.753px">Paused</span>
<div class="a" style="left:1309.20px;top:829.00px;width:303.20px;height:1.80px;background:#e9e9e9;"></div>
<span id="t52" class="t" style="left:1310.20px;top:852.25px;font-size:15.30px;font-weight:700;color:#111;letter-spacing:-0.144px">Modifiers</span>
<div class="a" style="left:1309.20px;top:874.00px;width:303.20px;height:1.80px;background:#e9e9e9;"></div>
<div class="a" style="left:1309.10px;top:885.40px;width:26.80px;height:27.80px;background:#c9c9c9;"></div>
<span id="t53" class="t m2" style="left:1348.30px;top:891.91px;font-size:15.70px;font-weight:400;color:#262626;letter-spacing:-0.213px">Retroactive</span>
<span id="t54" class="t m2" style="left:1429.60px;top:891.91px;font-size:15.70px;font-weight:400;color:#8e939d;letter-spacing:-0.170px">(in lighter shade)</span>
<div class="a" style="left:1309.20px;top:922.00px;width:303.20px;height:1.80px;background:#e9e9e9;"></div>
<div class="a" style="left:1309.10px;top:932.30px;width:26.80px;height:28.10px;background:#999;"></div>
<span id="t55" class="t m2" style="left:1348.30px;top:939.01px;font-size:15.70px;font-weight:400;color:#262626;letter-spacing:-0.226px">Out of schedule</span>
<span id="t56" class="t m2" style="left:1459.50px;top:939.01px;font-size:15.70px;font-weight:400;color:#8e939d;letter-spacing:-0.041px">(with dark stripe)</span>
<div class="a" style="left:1309.20px;top:969.00px;width:303.20px;height:1.80px;background:#e9e9e9;"></div>
</div></body></html>
